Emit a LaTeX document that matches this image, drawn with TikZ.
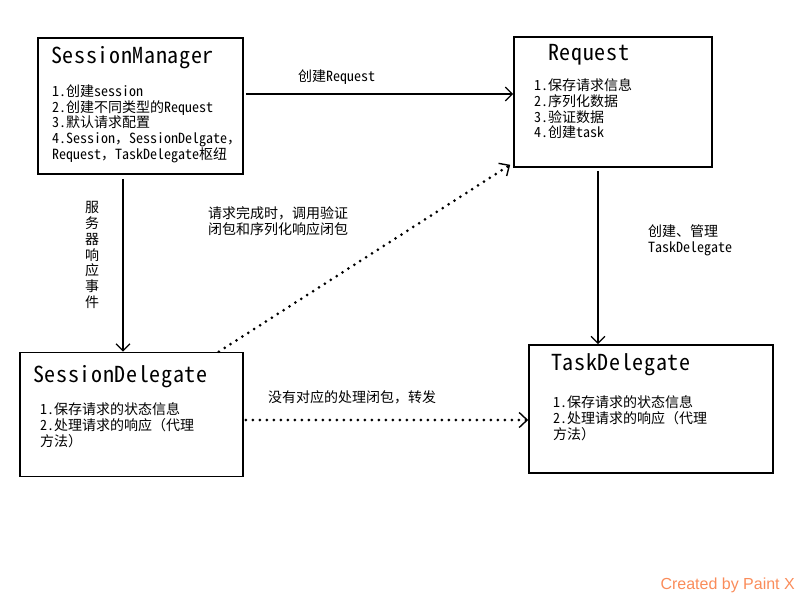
\documentclass[tikz,border=0pt]{standalone}
\usepackage{fontspec}
\setmainfont{Noto Sans CJK SC}
\newfontfamily\halffont{Noto Sans CJK SC}[RawFeature=+hwid]
\newfontfamily\headfont{Noto Sans CJK SC}[RawFeature=+hwid, LetterSpace=3]
\newfontfamily\paintfont{Liberation Sans}
\newcommand\fullp[1]{{\rmfamily #1}}
\usetikzlibrary{arrows.meta}
\definecolor{paintorange}{RGB}{250,140,90}

\begin{document}
\begin{tikzpicture}[x=1pt,y=-1pt]
\tikzstyle{box}=[draw, line width=1.6pt, inner sep=0pt]
\tikzstyle{title}=[anchor=west, inner sep=0pt, font=\headfont\fontsize{22}{24}\selectfont]
\tikzstyle{body}=[anchor=north west, align=left, inner sep=0pt, font=\halffont\fontsize{14}{15.7}\selectfont]
\tikzstyle{link}=[line width=1.3pt, -{Straight Barb[length=7pt,width=14pt]}]
\tikzstyle{cb}=[line width=3pt, line cap=round, dash pattern=on 0pt off 7pt, -{Straight Barb[length=8pt,width=15pt,line width=1.4pt]}]

\useasboundingbox (0,0) rectangle (800,600);

\node[box, minimum width=205pt, minimum height=136pt] (mgr) at (140.5,106) {};
\node[box, minimum width=198pt, minimum height=130pt] (req) at (613,102) {};
\node[box, minimum width=223pt, minimum height=124pt] (sdel) at (131.5,414.5) {};
\node[box, minimum width=244pt, minimum height=128pt] (tdel) at (651,409) {};

\node[title] (mgrT) at (51,58) {SessionManager};
\node[title] (reqT) at (548,55) {Request};
\node[title] (sdelT) at (33,377) {SessionDelegate};
\node[title] (tdelT) at (551,365) {TaskDelegate};

\node[body] (mgrB) at (52,84.5) {1.创建session\\2.创建不同类型的Request\\3.默认请求配置\\4.Session\fullp{，}SessionDelgate\fullp{，}\\Request\fullp{，}TaskDelegate枢纽};
\node[body] (reqB) at (534,78.5) {1.保存请求信息\\2.序列化数据\\3.验证数据\\4.创建task};
\node[body] (sdelB) at (40,402.5) {1.保存请求的状态信息\\2.处理请求的响应\fullp{（}代理\\方法\fullp{）}};
\node[body] (tdelB) at (553,395.5) {1.保存请求的状态信息\\2.处理请求的响应\fullp{（}代理\\方法\fullp{）}};

\node[body, anchor=west] (l1) at (298,77) {创建Request};
\node[body, anchor=center, align=center] (l2) at (92,255) {服\\务\\器\\响\\应\\事\\件};
\node[body] (l3) at (648,224.5) {创建、管理\\TaskDelegate};
\node[body] (l4) at (208,206.5) {请求完成时\fullp{，}调用验证\\闭包和序列化响应闭包};
\node[body, anchor=west] (l5) at (268,397) {没有对应的处理闭包\fullp{，}转发};

\draw[link] ([shift={(2pt,12pt)}]mgr.east) -- ([yshift=8pt]req.west);
\draw[link] ([shift={(-17.5pt,-4pt)}]mgr.south) -- ([xshift=-8.5pt]sdel.north);
\draw[link] ([shift={(-15pt,-3pt)}]req.south) -- ([xshift=-53pt]tdel.north);
\draw[cb] ([xshift=-25pt]sdel.north east) -- ([shift={(-3pt,3pt)}]req.south west);
\draw[cb] ([shift={(2pt,-5.5pt)}]sdel.east) -- ([yshift=-11pt]tdel.west);

\node[anchor=east, inner sep=0pt, text=paintorange, font=\paintfont\fontsize{16}{18}\selectfont] (mark) at (795,585) {Created by Paint X};
\end{tikzpicture}
\end{document}
